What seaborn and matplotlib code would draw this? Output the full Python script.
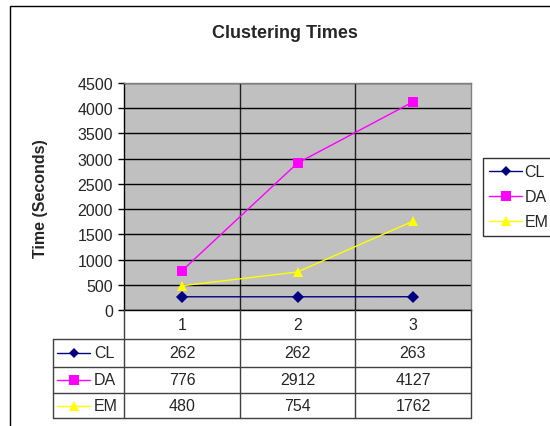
import matplotlib
matplotlib.use("Agg")
import matplotlib.pyplot as plt
import matplotlib.patches as mpatches
from matplotlib.lines import Line2D
import pandas as pd
import seaborn as sns

# data
runs = [1, 2, 3]
methods = ["CL", "DA", "EM"]
cl_times = [262, 262, 263]
da_times = [776, 2912, 4127]
em_times = [480, 754, 1762]

colors = {"CL": "#000080", "DA": "#FF00FF", "EM": "#FFFF00"}
marks = {"CL": "D", "DA": "s", "EM": "^"}
msizes = {"CL": 5.5, "DA": 6.5, "EM": 7}

df = pd.DataFrame({
    "Run": runs * 3,
    "Method": [m for m in methods for _ in runs],
    "Time": cl_times + da_times + em_times,
})

sns.set_style("white")
plt.rcParams["font.family"] = ["Liberation Sans", "DejaVu Sans"]

W, H = 550, 427
FS = 11.5
fig = plt.figure(figsize=(W / 100, H / 100), dpi=100)


# pixel box -> figure coords
def box(x0, y0, x1, y1):
    return [x0 / W, 1 - y1 / H, (x1 - x0) / W, (y1 - y0) / H]


# outer chart frame (cut off on right and bottom)
fig.patches.append(mpatches.Rectangle((10 / W, -0.1), 1.0, 1 - 7 / H + 0.1,
                                      transform=fig.transFigure, fill=False,
                                      edgecolor="black", linewidth=1))

ax = fig.add_axes(box(124, 84, 471, 311))
ax.set_facecolor("#C0C0C0")
sns.lineplot(data=df, x="Run", y="Time", hue="Method", style="Method",
             palette=colors, markers=marks, dashes=False, linewidth=1,
             markersize=6.5, markeredgewidth=0, legend=False, ax=ax)

ax.set_xlim(0.5, 3.5)
ax.set_ylim(0, 4500)
ax.set_yticks(range(0, 4501, 500))
ax.set_xticks([])
ax.set_xticks([1.5, 2.5], minor=True)
ax.tick_params(axis="x", which="both", length=0, labelbottom=False)
ax.grid(which="minor", axis="x", color="#202020", linewidth=1)
ax.yaxis.grid(True, color="black", linewidth=1)
ax.tick_params(axis="y", direction="out", length=4, width=1, color="black",
               labelsize=FS, pad=4, left=True)
ax.set_xlabel("")
ax.set_ylabel("")
for side in ["left", "bottom"]:
    ax.spines[side].set_color("black")
    ax.spines[side].set_linewidth(1)
for side in ["top", "right"]:
    ax.spines[side].set_color("#808080")
    ax.spines[side].set_linewidth(1)

fig.text(285 / W, 1 - 33 / H, "Clustering Times", fontsize=13,
         fontweight="bold", ha="center", va="center")
fig.text(40 / W, 1 - 199 / H, "Time (Seconds)", fontsize=FS,
         fontweight="bold", rotation=90, ha="center", va="center")

# data table under the plot
tax = fig.add_axes(box(50, 308, 475, 422))
tax.set_xlim(50, 475)
tax.set_ylim(422, 308)
tax.axis("off")
col_edges = [124, 240, 355, 471]
col_mid = [182, 297.5, 413]
row_edges = [340, 367.5, 394, 419]
row_mid = [353.5, 381, 406.5]
lc = "#404040"
for x in col_edges:
    tax.plot([x, x], [311, 419], color=lc, lw=1)
tax.plot([53, 53], [340, 419], color=lc, lw=1)
for y in row_edges:
    tax.plot([53, 471], [y, y], color=lc, lw=1)
for j, r in enumerate(runs):
    tax.text(col_mid[j], 325.5, str(r), fontsize=FS, ha="center", va="center")
series = [cl_times, da_times, em_times]
for i, m in enumerate(methods):
    tax.plot([57, 90], [row_mid[i], row_mid[i]], color=colors[m], lw=1)
    tax.plot([73.5], [row_mid[i]], marker=marks[m], color=colors[m],
             markersize=msizes[m], markeredgewidth=0)
    tax.text(94, row_mid[i], m, fontsize=FS, ha="left", va="center")
    for j, v in enumerate(series[i]):
        tax.text(col_mid[j], row_mid[i], str(v), fontsize=FS,
                 ha="center", va="center")

handles = [Line2D([], [], color=colors[m], marker=marks[m], lw=1,
                  markersize=msizes[m], markeredgewidth=0) for m in methods]
leg = fig.legend(handles, methods, loc="upper left",
                 bbox_to_anchor=(483 / W, 1 - 159 / H), fontsize=FS,
                 frameon=True, fancybox=False, borderaxespad=0,
                 handlelength=2.05, handletextpad=0.15, labelspacing=0.62,
                 borderpad=0.4)
leg.get_frame().set_edgecolor("black")
leg.get_frame().set_linewidth(1)

fig.savefig("out.png", dpi=100)
